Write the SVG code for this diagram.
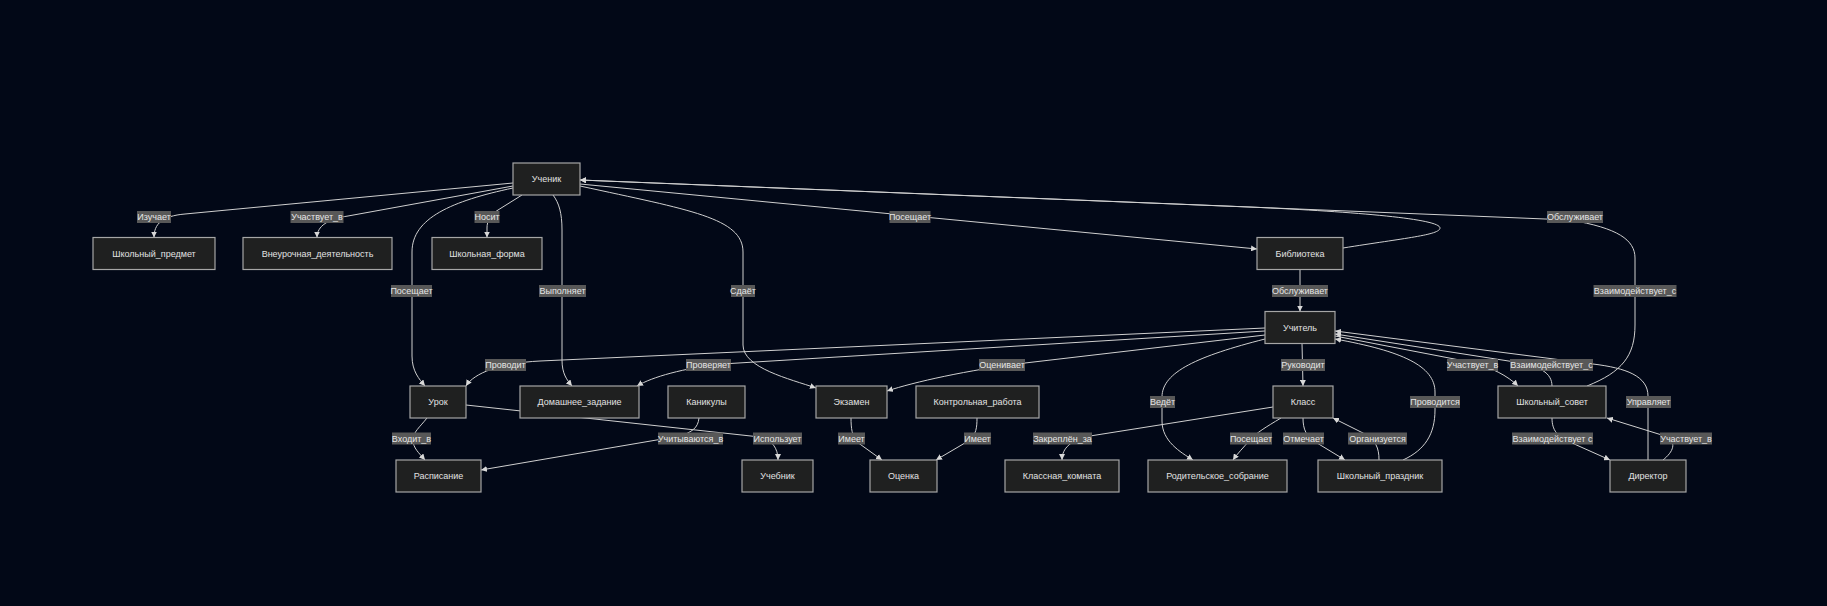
<svg xmlns="http://www.w3.org/2000/svg" width="1827" height="606" viewBox="0 0 1827 606">
<defs>
<style>
.bg{fill:#020817}
.node rect{fill:#1f2020;stroke:#a6a6a6;stroke-width:1.2}
.node text{fill:#e2e2e2;font-family:"Liberation Sans",Arial,sans-serif;font-size:9px;text-anchor:middle;dominant-baseline:central}
.edge{fill:none;stroke:#cfcfcf;stroke-width:1;marker-end:url(#arr)}
.lbl rect{fill:#585858}
.lbl text{fill:#e6e6e6;font-family:"Liberation Sans",Arial,sans-serif;font-size:9px;text-anchor:middle;dominant-baseline:central}
</style>
<marker id="arr" viewBox="0 0 10 10" refX="10" refY="5" markerUnits="userSpaceOnUse" markerWidth="6" markerHeight="6" orient="auto"><path d="M0,0 L10,5 L0,10 z" fill="#d8d8d8"/></marker>
</defs>
<rect class="bg" x="0" y="0" width="1827" height="606"/>
<g id="connectors">
<path class="edge" d="M513,183 L185,214 C162,216 154,224 154,237.5"/>
<path class="edge" d="M513,186 L348,216 C328,219 317,226 317,237.5"/>
<path class="edge" d="M522,195 L498,210 C490,215 487,221 487,228 L487,237.5"/>
<path class="edge" d="M513,188 C452,201 412,218 412,252 L412,356 C412,371 419,379 425,386"/>
<path class="edge" d="M553,195 C559,203 562,213 562,230 L562,360 C562,374 567,380 572,386"/>
<path class="edge" d="M580,186 C690,210 743,218 743,252 L743,345 C743,368 790,379 816,388"/>
<path class="edge" d="M580,184 L1257,249"/>
<path class="edge" d="M1343,248 C1405,238 1440,235 1440,228 C1440,219 1360,212 1250,207 L580,180"/>
<path class="edge" d="M1587,386 C1622,372 1635,356 1635,325 L1635,258 C1635,240 1618,228 1570,220 L580,180"/>
<path class="edge" d="M1300,269.5 L1300,311.5"/>
<path class="edge" d="M1265,328 L540,361 C500,363 474,373 466,386"/>
<path class="edge" d="M1265,331 L722,364 C684,368 652,377 637,386"/>
<path class="edge" d="M1265,335 L1025,363 C968,370 914,382 887,391"/>
<path class="edge" d="M1302,343.5 L1303,386"/>
<path class="edge" d="M1265,339 C1198,356 1162,372 1162,397 L1162,421 C1162,441 1180,452 1193,460"/>
<path class="edge" d="M1335,336 L1470,362 C1491,367 1508,376 1518,386"/>
<path class="edge" d="M1552,386 C1552,373 1540,366 1515,362 L1335,334"/>
<path class="edge" d="M1648,460 L1648,396 C1648,376 1626,368 1593,364 L1335,331"/>
<path class="edge" d="M1403,460 C1425,450 1435,434 1435,410 L1435,392 C1435,366 1402,351 1335,339"/>
<path class="edge" d="M1273,407 L1090,436 C1071,440 1062,448 1062,460"/>
<path class="edge" d="M1281,418 C1266,427 1256,433 1250,440 C1243,448 1237,454 1233,460"/>
<path class="edge" d="M1303,418 C1303,429 1306,437 1317,443 L1345,460"/>
<path class="edge" d="M1379,460 C1379,448 1376,440 1363,433 L1333,418"/>
<path class="edge" d="M1552,418 C1552,430 1557,437 1572,443 L1610,460"/>
<path class="edge" d="M1663,460 C1673,452 1678,442 1665,436 L1607,418"/>
<path class="edge" d="M699,418 C698,428 692,432 680,436 L481,470"/>
<path class="edge" d="M427,418 C420,427 413,432 413,440 C413,448 419,453 425,460"/>
<path class="edge" d="M466,405 L760,437 C772,440 778,448 778,460"/>
<path class="edge" d="M851,418 C851,428 852,436 857,442 L882,460"/>
<path class="edge" d="M977,418 C977,428 976,434 970,440 L936,460"/>
</g>
<g id="edge-labels">
<g class="lbl"><rect x="137" y="211" width="34" height="12"/><text x="154" y="217">Изучает</text></g>
<g class="lbl"><rect x="290.5" y="211" width="53" height="12"/><text x="317" y="217">Участвует_в</text></g>
<g class="lbl"><rect x="474.5" y="211" width="25" height="12"/><text x="487" y="217">Носит</text></g>
<g class="lbl"><rect x="889.5" y="211" width="41" height="12"/><text x="910" y="217">Посещает</text></g>
<g class="lbl"><rect x="1547" y="211" width="56" height="12"/><text x="1575" y="217">Обслуживает</text></g>
<g class="lbl"><rect x="391" y="285" width="41" height="12"/><text x="411.5" y="291">Посещает</text></g>
<g class="lbl"><rect x="539" y="285" width="47" height="12"/><text x="562.5" y="291">Выполняет</text></g>
<g class="lbl"><rect x="731" y="285" width="24" height="12"/><text x="743" y="291">Сдаёт</text></g>
<g class="lbl"><rect x="1272" y="285" width="56" height="12"/><text x="1300" y="291">Обслуживает</text></g>
<g class="lbl"><rect x="1593.5" y="285" width="83" height="12"/><text x="1635" y="291">Взаимодействует_с</text></g>
<g class="lbl"><rect x="485" y="359" width="41" height="12"/><text x="505.5" y="365">Проводит</text></g>
<g class="lbl"><rect x="686" y="359" width="45" height="12"/><text x="708.5" y="365">Проверяет</text></g>
<g class="lbl"><rect x="979" y="359" width="46" height="12"/><text x="1002" y="365">Оценивает</text></g>
<g class="lbl"><rect x="1281" y="359" width="44" height="12"/><text x="1303" y="365">Руководит</text></g>
<g class="lbl"><rect x="1447" y="359" width="51" height="12"/><text x="1472.5" y="365">Участвует_в</text></g>
<g class="lbl"><rect x="1510" y="359" width="83" height="12"/><text x="1551.5" y="365">Взаимодействует_с</text></g>
<g class="lbl"><rect x="1150" y="396" width="25" height="12"/><text x="1162.5" y="402">Ведёт</text></g>
<g class="lbl"><rect x="1410" y="396" width="50" height="12"/><text x="1435" y="402">Проводится</text></g>
<g class="lbl"><rect x="1626" y="396" width="45" height="12"/><text x="1648.5" y="402">Управляет</text></g>
<g class="lbl"><rect x="392" y="432.5" width="39" height="12"/><text x="411.5" y="438.5">Входит_в</text></g>
<g class="lbl"><rect x="658" y="432.5" width="65" height="12"/><text x="690.5" y="438.5">Учитываются_в</text></g>
<g class="lbl"><rect x="753" y="432.5" width="49" height="12"/><text x="777.5" y="438.5">Использует</text></g>
<g class="lbl"><rect x="838" y="432.5" width="27" height="12"/><text x="851.5" y="438.5">Имеет</text></g>
<g class="lbl"><rect x="964" y="432.5" width="27" height="12"/><text x="977.5" y="438.5">Имеет</text></g>
<g class="lbl"><rect x="1033" y="432.5" width="59" height="12"/><text x="1062.5" y="438.5">Закреплён_за</text></g>
<g class="lbl"><rect x="1230" y="432.5" width="42" height="12"/><text x="1251" y="438.5">Посещает</text></g>
<g class="lbl"><rect x="1283" y="432.5" width="41" height="12"/><text x="1303.5" y="438.5">Отмечает</text></g>
<g class="lbl"><rect x="1348" y="432.5" width="59" height="12"/><text x="1377.5" y="438.5">Организуется</text></g>
<g class="lbl"><rect x="1512" y="432.5" width="81" height="12"/><text x="1552.5" y="438.5">Взаимодействует с</text></g>
<g class="lbl"><rect x="1660" y="432.5" width="52" height="12"/><text x="1686" y="438.5">Участвует_в</text></g>
</g>
<g id="n_uchenik" class="node"><rect x="513" y="163" width="67" height="32"/><text x="546.5" y="179">Ученик</text></g>
<g id="n_predmet" class="node"><rect x="93" y="237.5" width="122" height="32"/><text x="154" y="253.5">Школьный_предмет</text></g>
<g id="n_vneur" class="node"><rect x="243" y="237.5" width="149" height="32"/><text x="317.5" y="253.5">Внеурочная_деятельность</text></g>
<g id="n_forma" class="node"><rect x="432" y="237.5" width="110" height="32"/><text x="487" y="253.5">Школьная_форма</text></g>
<g id="n_biblioteka" class="node"><rect x="1257" y="237.5" width="86" height="32"/><text x="1300" y="253.5">Библиотека</text></g>
<g id="n_uchitel" class="node"><rect x="1265" y="311.5" width="70" height="32"/><text x="1300" y="327.5">Учитель</text></g>
<g id="n_urok" class="node"><rect x="410" y="386" width="56" height="32"/><text x="438" y="402">Урок</text></g>
<g id="n_dz" class="node"><rect x="520" y="386" width="119" height="32"/><text x="579.5" y="402">Домашнее_задание</text></g>
<g id="n_kanikuly" class="node"><rect x="668" y="386" width="77" height="32"/><text x="706.5" y="402">Каникулы</text></g>
<g id="n_ekzamen" class="node"><rect x="816" y="386" width="71" height="32"/><text x="851.5" y="402">Экзамен</text></g>
<g id="n_kr" class="node"><rect x="916" y="386" width="123" height="32"/><text x="977.5" y="402">Контрольная_работа</text></g>
<g id="n_klass" class="node"><rect x="1273" y="386" width="60" height="32"/><text x="1303" y="402">Класс</text></g>
<g id="n_sovet" class="node"><rect x="1498" y="386" width="108" height="32"/><text x="1552" y="402">Школьный_совет</text></g>
<g id="n_raspisanie" class="node"><rect x="396" y="460" width="85" height="32"/><text x="438.5" y="476">Расписание</text></g>
<g id="n_uchebnik" class="node"><rect x="742" y="460" width="71" height="32"/><text x="777.5" y="476">Учебник</text></g>
<g id="n_ocenka" class="node"><rect x="870" y="460" width="67" height="32"/><text x="903.5" y="476">Оценка</text></g>
<g id="n_komnata" class="node"><rect x="1005" y="460" width="114" height="32"/><text x="1062" y="476">Классная_комната</text></g>
<g id="n_sobranie" class="node"><rect x="1148" y="460" width="139" height="32"/><text x="1217.5" y="476">Родительское_собрание</text></g>
<g id="n_prazdnik" class="node"><rect x="1318" y="460" width="124" height="32"/><text x="1380" y="476">Школьный_праздник</text></g>
<g id="n_direktor" class="node"><rect x="1610" y="460" width="76" height="32"/><text x="1648" y="476">Директор</text></g>
</svg>
